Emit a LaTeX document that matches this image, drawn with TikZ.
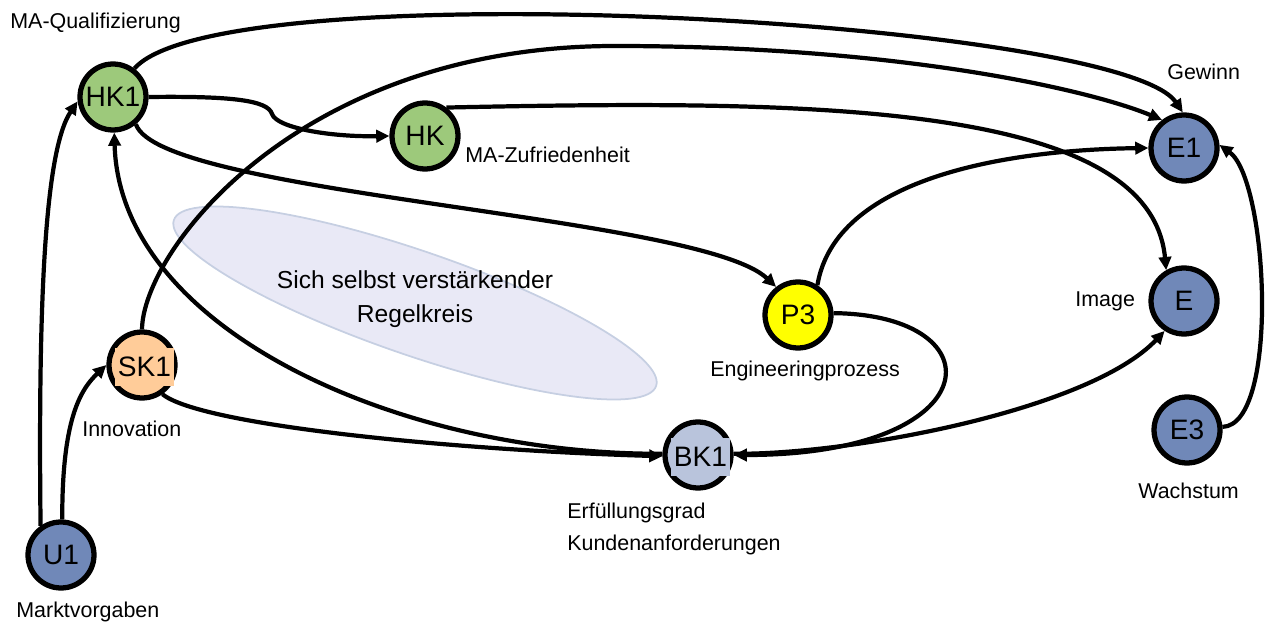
\documentclass[tikz,border=0pt]{standalone}
\usepackage{fontspec}
\setmainfont{Liberation Sans}
\usetikzlibrary{arrows.meta}
\definecolor{cgreen}{HTML}{9DC97B}
\definecolor{cblue}{HTML}{7088B8}
\definecolor{cyellow}{HTML}{FFFF00}
\definecolor{corange}{HTML}{FFCC99}
\definecolor{cbk}{HTML}{B9C4DC}
\definecolor{ellfill}{HTML}{E9E9F6}
\definecolor{elldraw}{HTML}{C6CFE2}
\begin{document}
\begin{tikzpicture}[x=0.02cm,y=-0.02cm,
 kc/.style={circle, draw=black, line width=3pt, minimum size=1.32cm, inner sep=0pt, font=\fontsize{16}{18}\selectfont},
 hl/.style={rectangle, inner xsep=1.5pt, inner ysep=0pt, minimum height=0.78cm, font=\fontsize{16}{18}\selectfont},
 lbl/.style={anchor=base west, inner sep=0pt, font=\fontsize{12.2}{14}\selectfont},
 etxt/.style={anchor=base, inner sep=0pt, font=\fontsize{14}{17}\selectfont},
 con/.style={line width=2.4pt, draw=black},
 arr/.style={con, -{Triangle[length=7.5pt,width=7pt]}},
 ell/.style={fill=ellfill, draw=elldraw, line width=1pt}
]
\useasboundingbox (0,0) rectangle (1273,624);

% feedback loop ellipse
\draw[ell, rotate around={-19:(415,303)}] (415,303) ellipse [x radius=255, y radius=52];
\node[etxt] (t1) at (415,289) {Sich selbst verstärkender};
\node[etxt] (t2) at (415,323) {Regelkreis};

% nodes
\node[kc, fill=cgreen] (HK1) at (113,97) {HK1};
\node[kc, fill=cgreen] (HK) at (425,136) {HK};
\node[kc, fill=cblue] (E1) at (1184,148) {E1};
\node[kc, fill=cblue] (E) at (1184,301) {E};
\node[kc, fill=cblue] (E3) at (1187,430) {E3};
\node[kc, fill=cyellow] (P3) at (798,315) {P3};
\node[kc, fill=corange] (SK1) at (142,365) {};
\node[hl, fill=corange] (SK1t) at (144.5,367) {SK1};
\node[kc, fill=cbk] (BK1) at (698,455) {};
\node[hl, fill=cbk] (BK1t) at (700.5,457) {BK1};
\node[kc, fill=cblue] (U1) at (61,555) {U1};

% labels
\node[lbl] (lMAQ) at (10,29) {MA-Qualifizierung};
\node[lbl] (lMAZ) at (465,163) {MA-Zufriedenheit};
\node[lbl] (lGew) at (1167,80) {Gewinn};
\node[lbl] (lImg) at (1075,307) {Image};
\node[lbl] (lWach) at (1138,498) {Wachstum};
\node[lbl] (lEng) at (710,377) {Engineeringprozess};
\node[lbl] (lErf) at (567,518) {Erfüllungsgrad};
\node[lbl] (lKund) at (567,550) {Kundenanforderungen};
\node[lbl] (lInn) at (82,436) {Innovation};
\node[lbl] (lMarkt) at (16,617) {Marktvorgaben};

% connectors
\draw[arr] (U1.125) .. controls (38,300) and (45,150) .. (HK1.187);
\draw[arr] (U1.88) .. controls (62,420) and (80,390) .. (SK1.180);
\draw[arr] (HK1.53) .. controls (220,-30) and (1120,20) .. (E1.92);
\draw[arr] (SK1.90) .. controls (143,250) and (300,46) .. (615,46) .. controls (900,46) and (1090,90) .. (E1.128);
\draw[arr] (HK1.0) .. controls (230,96) and (268,100) .. (272,114) .. controls (277,128) and (330,137) .. (HK.180);
\draw[arr] (HK.53) .. controls (800,100) and (1150,100) .. (E.120);
\draw[arr] (HK1.-50) .. controls (160,195) and (700,215) .. (P3.128);
\draw[arr] (P3.57) .. controls (835,180) and (1000,150) .. (E1.180);
\draw[arr] (P3.3) .. controls (1000,315) and (990,455) .. (BK1.0);
\draw[arr] (BK1.2) .. controls (850,455) and (1090,410) .. (E.237);
\draw[arr] (SK1.-55) .. controls (200,425) and (450,450) .. (BK1.182);
\draw[arr] (BK1.178) .. controls (400,455) and (120,330) .. (HK1.-88);
\draw[arr] (E3.5) .. controls (1280,425) and (1268,180) .. (E1.5);
\end{tikzpicture}
\end{document}
